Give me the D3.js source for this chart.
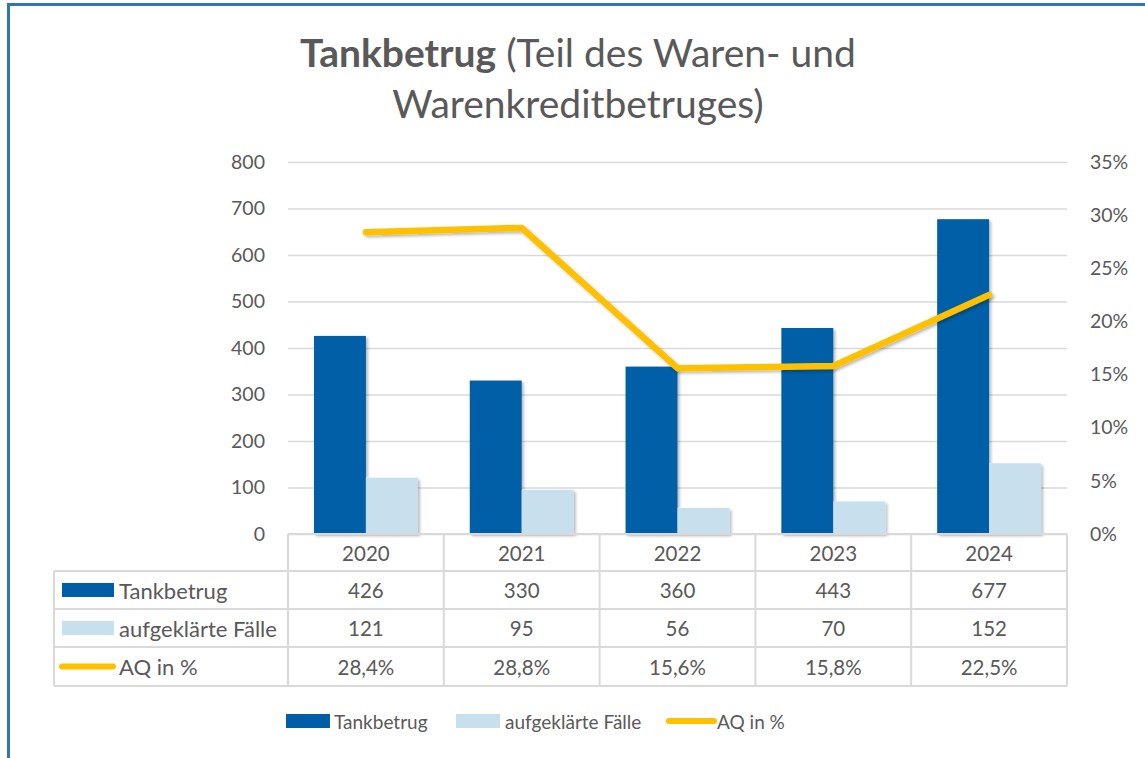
<!DOCTYPE html>
<html><head><meta charset="utf-8">
<script src="https://cdn.jsdelivr.net/npm/d3@7"></script>
<style>
html,body{margin:0;padding:0;background:#fff;}
svg{display:block;font-family:Lato,"Open Sans",sans-serif;}
</style></head>
<body>
<svg id="c" width="1145" height="758"></svg>
<script>
const years = ["2020","2021","2022","2023","2024"];
const tankbetrug = [426,330,360,443,677];
const aufgeklaert = [121,95,56,70,152];
const aqPct = [28.4,28.8,15.6,15.8,22.5];
const aqLabels = ["28,4%","28,8%","15,6%","15,8%","22,5%"];
const leftTicks = [0,100,200,300,400,500,600,700,800];
const rightTicks = [0,5,10,15,20,25,30,35];
const seriesNames = ["Tankbetrug","aufgeklärte Fälle","AQ in %"];

const C_DARK = "#005EA6", C_LIGHT = "#C8DFEE", C_LINE = "#FFC000";
const TXT = "#595959", GRID = "#D9D9D9";

const svg = d3.select("#c");
const defs = svg.append("defs");
const f = defs.append("filter").attr("id","sh").attr("x","-20%").attr("y","-20%").attr("width","150%").attr("height","150%");
f.append("feDropShadow").attr("dx",2).attr("dy",2).attr("stdDeviation",1.8).attr("flood-color","#000").attr("flood-opacity",0.28);

// frame
svg.append("rect").attr("x",8.5).attr("y",4.5).attr("width",1160).attr("height",780)
  .attr("fill","none").attr("stroke","#2E75B6").attr("stroke-width",3);

const L = 288, R = 1067, T = 162, B = 534;
const x = d3.scaleBand().domain(years).range([L,R]).padding(0);
const xi = d3.scaleBand().domain(["t","a"]).range([0,x.bandwidth()]).paddingInner(0).paddingOuter(0.5);
const y = d3.scaleLinear().domain([0,800]).range([B,T]);
const y2 = d3.scaleLinear().domain([0,35]).range([B,T]);

// gridlines
const grid = svg.append("g").attr("transform",`translate(${L},0)`)
  .call(d3.axisLeft(y).tickValues(leftTicks).tickSize(-(R-L)).tickFormat(""));
grid.select(".domain").remove();
grid.selectAll("line").attr("stroke",GRID).attr("stroke-width",1.5);

// left axis
const ax = svg.append("g").attr("transform",`translate(${L},0)`)
  .call(d3.axisLeft(y).tickValues(leftTicks).tickSize(0).tickPadding(23));
ax.select(".domain").remove();
ax.selectAll("text").attr("fill",TXT).style("font-size","19.5px").style("font-family","Lato,sans-serif");

// right axis
const ax2 = svg.append("g").attr("transform",`translate(${R},0)`)
  .call(d3.axisRight(y2).tickValues(rightTicks).tickSize(0).tickPadding(23).tickFormat(d=>d+"%"));
ax2.select(".domain").remove();
ax2.selectAll("text").attr("fill",TXT).style("font-size","19.5px").style("font-family","Lato,sans-serif");

// bars
const bars = svg.append("g").attr("filter","url(#sh)");
bars.selectAll("rect.t").data(years).join("rect")
  .attr("x",(d)=>x(d)+xi("t")).attr("width",xi.bandwidth())
  .attr("y",(d,i)=>y(tankbetrug[i])).attr("height",(d,i)=>y(0)-y(tankbetrug[i]))
  .attr("fill",C_DARK);
bars.selectAll("rect.a").data(years).join("rect")
  .attr("x",(d)=>x(d)+xi("a")).attr("width",xi.bandwidth())
  .attr("y",(d,i)=>y(aufgeklaert[i])).attr("height",(d,i)=>y(0)-y(aufgeklaert[i]))
  .attr("fill",C_LIGHT);

// line
const line = d3.line().x((d,i)=>x(years[i])+x.bandwidth()/2).y(d=>y2(d));
svg.append("path").datum(aqPct).attr("d",line).attr("fill","none")
  .attr("stroke",C_LINE).attr("stroke-width",6.5).attr("stroke-linejoin","round").attr("stroke-linecap","round")
  .attr("filter","url(#sh)");

// data table
const rowsY = [534,571,609,647,686];
const TL = 54;
const tbl = svg.append("g");
const tstroke = (sel)=>sel.attr("stroke",GRID).attr("stroke-width",2).attr("fill","none");
tbl.append("line").attr("x1",L).attr("x2",R).attr("y1",rowsY[0]).attr("y2",rowsY[0]).call(tstroke);
rowsY.slice(1).forEach(v=>tbl.append("line").attr("x1",TL).attr("x2",R).attr("y1",v).attr("y2",v).call(tstroke));
tbl.append("line").attr("x1",TL).attr("x2",TL).attr("y1",rowsY[1]).attr("y2",rowsY[4]).call(tstroke);
years.forEach(d=>tbl.append("line").attr("x1",x(d)).attr("x2",x(d)).attr("y1",rowsY[0]).attr("y2",rowsY[4]).call(tstroke));
tbl.append("line").attr("x1",R).attr("x2",R).attr("y1",rowsY[0]).attr("y2",rowsY[4]).call(tstroke);

const cellText = (row, vals)=>{
  const cy = (rowsY[row]+rowsY[row+1])/2;
  tbl.selectAll(null).data(vals).join("text")
    .attr("x",(d,i)=>x(years[i])+x.bandwidth()/2).attr("y",cy)
    .attr("text-anchor","middle").attr("dominant-baseline","central")
    .attr("fill",TXT).style("font-size","20.5px").text(d=>d);
};
cellText(0, years);
cellText(1, tankbetrug);
cellText(2, aufgeklaert);
cellText(3, aqLabels);

// row legend keys
const keyRow = (row, type, label)=>{
  const cy = (rowsY[row]+rowsY[row+1])/2;
  if(type==="line"){
    tbl.append("line").attr("x1",62).attr("x2",113).attr("y1",cy).attr("y2",cy)
      .attr("stroke",C_LINE).attr("stroke-width",6).attr("stroke-linecap","round");
  } else {
    tbl.append("rect").attr("x",62).attr("y",cy-7).attr("width",52).attr("height",14).attr("fill",type);
  }
  tbl.append("text").attr("x",119).attr("y",cy).attr("dominant-baseline","central")
    .attr("fill",TXT).style("font-size","22px").text(label);
};
keyRow(1, C_DARK, seriesNames[0]);
keyRow(2, C_LIGHT, seriesNames[1]);
keyRow(3, "line", seriesNames[2]);

// bottom legend
const lg = svg.append("g");
const ly = 721;
lg.append("rect").attr("x",286).attr("y",ly-7).attr("width",44).attr("height",14).attr("fill",C_DARK);
lg.append("text").attr("x",334).attr("y",ly).attr("dominant-baseline","central").attr("fill",TXT).style("font-size","19px").text(seriesNames[0]);
lg.append("rect").attr("x",456).attr("y",ly-7).attr("width",44).attr("height",14).attr("fill",C_LIGHT);
lg.append("text").attr("x",505).attr("y",ly).attr("dominant-baseline","central").attr("fill",TXT).style("font-size","19px").text(seriesNames[1]);
lg.append("line").attr("x1",669).attr("x2",714).attr("y1",ly).attr("y2",ly).attr("stroke",C_LINE).attr("stroke-width",6).attr("stroke-linecap","round");
lg.append("text").attr("x",717).attr("y",ly).attr("dominant-baseline","central").attr("fill",TXT).style("font-size","19px").text(seriesNames[2]);

// title
const t1 = svg.append("text").attr("x",578).attr("y",67).attr("text-anchor","middle").attr("fill",TXT).style("font-size","39px");
t1.append("tspan").attr("font-weight","bold").text("Tankbetrug");
t1.append("tspan").text(" (Teil des Waren- und");
svg.append("text").attr("x",578).attr("y",118).attr("text-anchor","middle").attr("fill",TXT).style("font-size","39px").text("Warenkreditbetruges)");
</script>
</body></html>
